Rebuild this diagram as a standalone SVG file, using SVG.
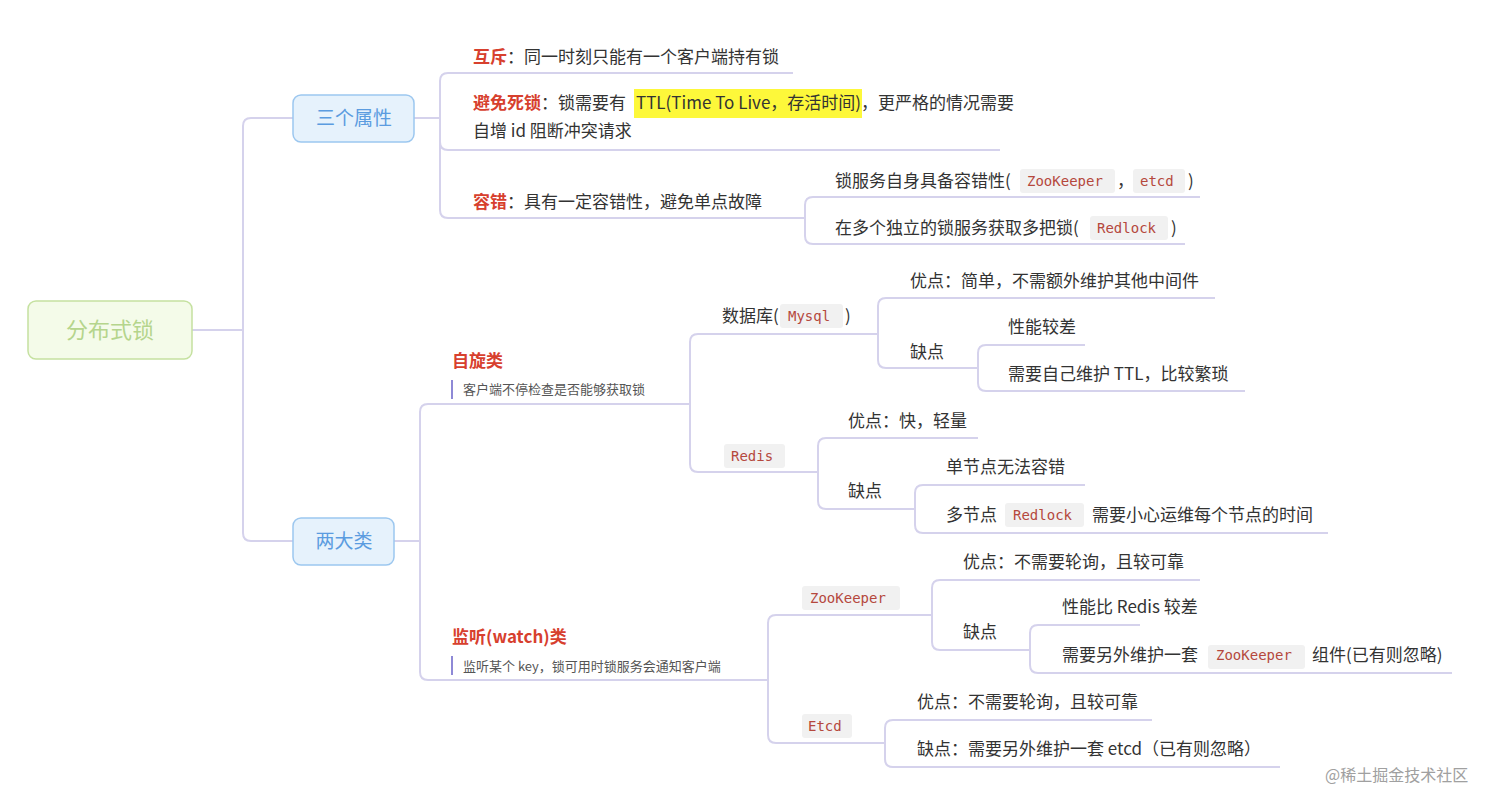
<svg xmlns="http://www.w3.org/2000/svg" width="1492" height="791" viewBox="0 0 1492 791">
<style>
text{font-family:"Noto Sans CJK SC","Liberation Sans",sans-serif;font-size:17px;fill:#333}
.t{fill:#d7402e;font-weight:bold}
.s{font-size:13px;fill:#555}
.c{font-family:"DejaVu Sans Mono","Liberation Mono",monospace;font-size:14px;fill:#b5483d}
.chip{fill:#f1f1f1}
.ln{fill:none;stroke:#d5d2ec;stroke-width:2}
.bar{stroke:#8e89d6;stroke-width:2}
</style>
<rect width="1492" height="791" fill="#fff"/>
<g id="connectors">
<path class="ln" d="M192 330H243V126Q243 118 251 118H293"/>
<path class="ln" d="M192 330H243V533Q243 541 251 541H293"/>
<path class="ln" d="M414 118H440V81Q440 73 448 73H793"/>
<path class="ln" d="M414 118H440V142Q440 150 448 150H1000"/>
<path class="ln" d="M414 118H440V210Q440 218 448 218H805"/>
<path class="ln" d="M805 218V205Q805 197 813 197H1200"/>
<path class="ln" d="M805 218V236Q805 244 813 244H1185"/>
<path class="ln" d="M394 541H420V412Q420 404 428 404H690"/>
<path class="ln" d="M394 541H420V672Q420 680 428 680H768"/>
<path class="ln" d="M690 404V342Q690 334 698 334H878"/>
<path class="ln" d="M690 404V464Q690 472 698 472H818"/>
<path class="ln" d="M878 334V306Q878 298 886 298H1215"/>
<path class="ln" d="M878 334V360Q878 368 886 368H978"/>
<path class="ln" d="M978 368V353Q978 345 986 345H1085"/>
<path class="ln" d="M978 368V383Q978 391 986 391H1245"/>
<path class="ln" d="M818 472V446Q818 438 826 438H978"/>
<path class="ln" d="M818 472V501Q818 509 826 509H915"/>
<path class="ln" d="M915 509V493Q915 485 923 485H1085"/>
<path class="ln" d="M915 509V525Q915 533 923 533H1328"/>
<path class="ln" d="M768 680V623Q768 615 776 615H932"/>
<path class="ln" d="M768 680V735Q768 743 776 743H885"/>
<path class="ln" d="M932 615V588Q932 580 940 580H1200"/>
<path class="ln" d="M932 615V642Q932 650 940 650H1030"/>
<path class="ln" d="M1030 650V633Q1030 625 1038 625H1140"/>
<path class="ln" d="M1030 650V665Q1030 673 1038 673H1452"/>
<path class="ln" d="M885 743V728Q885 720 893 720H1152"/>
<path class="ln" d="M885 743V759Q885 767 893 767H1280"/>
</g>
<g id="root"><rect x="28" y="301" width="164" height="58" rx="8" fill="#f4fbe9" stroke="#c5e1a0" stroke-width="1.5"/><text x="110" y="338" text-anchor="middle" style="font-size:22px;fill:#b5d58c">分布式锁</text></g>
<g id="n-sgsx"><rect x="293" y="95" width="121" height="47" rx="8" fill="#e6f2fc" stroke="#9cc7ef" stroke-width="1.5"/><text x="354" y="125" text-anchor="middle" style="font-size:19px;fill:#5b9ce0">三个属性</text></g>
<g id="n-ldl"><rect x="293" y="518" width="101" height="47" rx="8" fill="#e6f2fc" stroke="#9cc7ef" stroke-width="1.5"/><text x="344" y="548" text-anchor="middle" style="font-size:19px;fill:#5b9ce0">两大类</text></g>
<g id="n-hc"><text x="473" y="63"><tspan class="t">互斥</tspan>：同一时刻只能有一个客户端持有锁</text></g>
<g id="n-bmsd"><rect x="634" y="89" width="228" height="29" fill="#fdf83a"/><text x="473" y="109"><tspan class="t">避免死锁</tspan>：锁需要有 <tspan x="636">TTL(Time To Live，存活时间)</tspan>，更严格的情况需要</text><text x="473" y="137">自增 id 阻断冲突请求</text></g>
<g id="n-rc"><text x="473" y="208"><tspan class="t">容错</tspan>：具有一定容错性，避免单点故障</text></g>
<g id="n-rc1"><rect class="chip" x="1020" y="169" width="95" height="24" rx="3"/><rect class="chip" x="1133" y="169" width="52" height="24" rx="3"/><text x="835" y="187">锁服务自身具备容错性(</text><text class="c" x="1027" y="186">ZooKeeper</text><text x="1117" y="187">，</text><text class="c" x="1140" y="186">etcd</text><text x="1188" y="187">)</text></g>
<g id="n-rc2"><rect class="chip" x="1090" y="216" width="78" height="24" rx="3"/><text x="835" y="234">在多个独立的锁服务获取多把锁(</text><text class="c" x="1097" y="233">Redlock</text><text x="1171" y="234">)</text></g>
<g id="n-zx"><text class="t" x="452" y="367" style="font-size:17px">自旋类</text><line class="bar" x1="452" y1="380" x2="452" y2="399"/><text class="s" x="463" y="394">客户端不停检查是否能够获取锁</text></g>
<g id="n-db"><rect class="chip" x="780" y="304" width="63" height="24" rx="3"/><text x="722" y="322">数据库(</text><text class="c" x="788" y="321">Mysql</text><text x="845" y="322">)</text></g>
<g id="n-db1"><text x="910" y="287">优点：简单，不需额外维护其他中间件</text></g>
<g id="n-db2"><text x="910" y="358">缺点</text></g>
<g id="n-db21"><text x="1008" y="333">性能较差</text></g>
<g id="n-db22"><text x="1008" y="380">需要自己维护 TTL，比较繁琐</text></g>
<g id="n-redis"><rect class="chip" x="724" y="444" width="61" height="24" rx="3"/><text class="c" x="731" y="461">Redis</text></g>
<g id="n-r1"><text x="848" y="427">优点：快，轻量</text></g>
<g id="n-r2"><text x="848" y="497">缺点</text></g>
<g id="n-r21"><text x="946" y="473">单节点无法容错</text></g>
<g id="n-r22"><rect class="chip" x="1005" y="503" width="79" height="24" rx="3"/><text x="946" y="521">多节点</text><text class="c" x="1013" y="520">Redlock</text><text x="1092" y="521">需要小心运维每个节点的时间</text></g>
<g id="n-jt"><text class="t" x="452" y="643" style="font-size:17px">监听(watch)类</text><line class="bar" x1="452" y1="656" x2="452" y2="675"/><text class="s" x="463" y="671">监听某个 key，锁可用时锁服务会通知客户端</text></g>
<g id="n-zk"><rect class="chip" x="802" y="586" width="98" height="24" rx="3"/><text class="c" x="810" y="603">ZooKeeper</text></g>
<g id="n-zk1"><text x="963" y="568">优点：不需要轮询，且较可靠</text></g>
<g id="n-zk2"><text x="963" y="638">缺点</text></g>
<g id="n-zk21"><text x="1062" y="613">性能比 Redis 较差</text></g>
<g id="n-zk22"><rect class="chip" x="1208" y="645" width="97" height="24" rx="3"/><text x="1062" y="661">需要另外维护一套</text><text class="c" x="1216" y="660">ZooKeeper</text><text x="1312" y="661">组件(已有则忽略)</text></g>
<g id="n-etcd"><rect class="chip" x="802" y="714" width="50" height="24" rx="3"/><text class="c" x="808" y="731">Etcd</text></g>
<g id="n-e1"><text x="917" y="708">优点：不需要轮询，且较可靠</text></g>
<g id="n-e2"><text x="917" y="755">缺点：需要另外维护一套 etcd（已有则忽略）</text></g>
<text x="1325" y="781" style="font-size:16px;fill:#a0a0a0">@稀土掘金技术社区</text>
</svg>
